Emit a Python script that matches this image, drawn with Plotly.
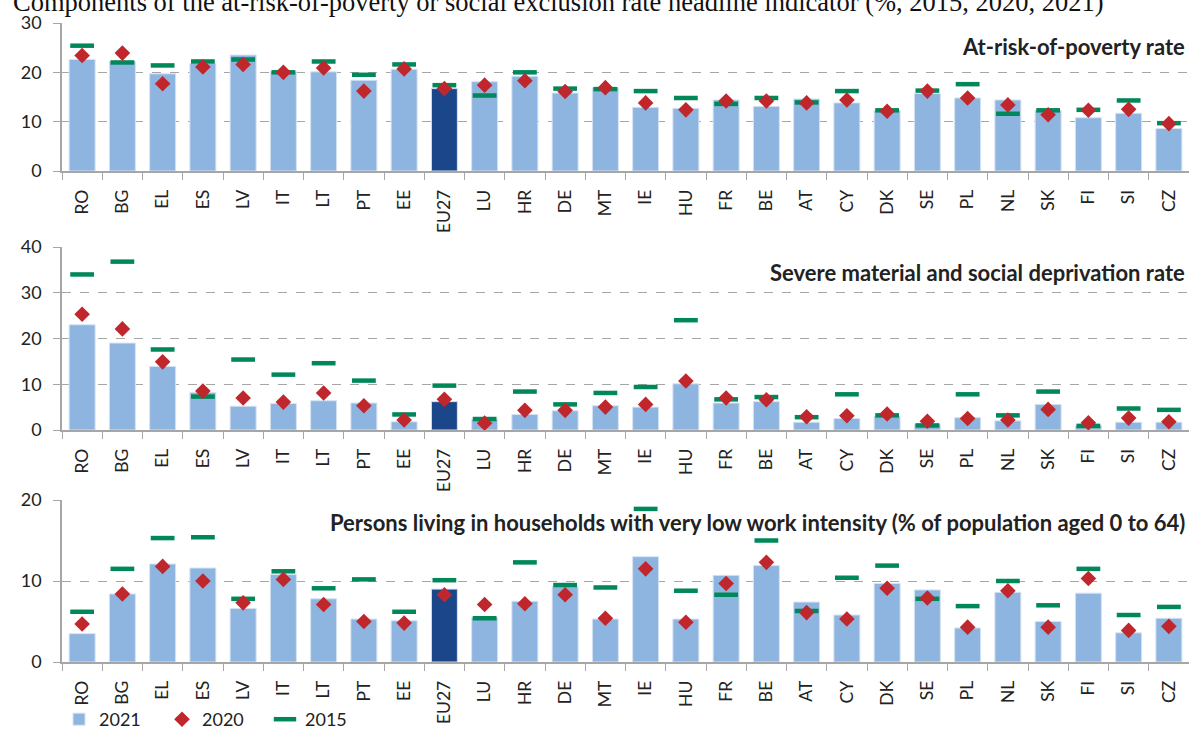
import plotly.graph_objects as go

cats = ["RO", "BG", "EL", "ES", "LV", "IT", "LT", "PT", "EE", "EU27", "LU", "HR", "DE", "MT",
        "IE", "HU", "FR", "BE", "AT", "CY", "DK", "SE", "PL", "NL", "SK", "FI", "SI", "CZ"]

# Panel 1: At-risk-of-poverty rate
arop_2021 = [22.6, 22.2, 19.7, 21.8, 23.5, 20.2, 20.1, 18.4, 20.6, 16.7, 18.1, 19.2, 15.8, 16.9,
             12.9, 12.7, 14.4, 13.1, 14.6, 13.8, 12.3, 15.7, 14.8, 14.4, 12.3, 10.8, 11.7, 8.6]
arop_2020 = [23.4, 23.9, 17.7, 21.1, 21.6, 20.0, 20.9, 16.2, 20.7, 16.7, 17.4, 18.3, 16.1, 16.9,
             13.8, 12.4, 14.2, 14.2, 13.8, 14.4, 12.1, 16.2, 14.8, 13.4, 11.4, 12.3, 12.5, 9.6]
arop_2015 = [25.4, 22.0, 21.4, 22.2, 22.6, 20.0, 22.2, 19.5, 21.6, 17.4, 15.3, 20.0, 16.7, 16.6,
             16.2, 14.8, 13.6, 14.8, 13.9, 16.2, 12.3, 16.3, 17.6, 11.6, 12.3, 12.4, 14.3, 9.7]

# Panel 2: Severe material and social deprivation rate
smsd_2021 = [23.0, 19.0, 13.9, 8.2, 5.2, 5.8, 6.4, 5.9, 1.8, 6.2, 2.3, 3.4, 4.2, 5.3,
             5.0, 10.1, 5.9, 6.2, 1.7, 2.5, 3.0, 1.3, 2.7, 2.0, 5.6, 1.0, 1.7, 1.7]
smsd_2020 = [25.3, 22.1, 14.9, 8.5, 7.0, 6.1, 8.1, 5.3, 2.2, 6.7, 1.5, 4.3, 4.3, 5.0,
             5.6, 10.7, 7.0, 6.6, 2.9, 3.1, 3.5, 1.9, 2.5, 2.2, 4.5, 1.6, 2.6, 1.8]
smsd_2015 = [34.0, 36.8, 17.6, 7.3, 15.4, 12.1, 14.6, 10.8, 3.4, 9.7, 2.4, 8.4, 5.6, 8.1,
             9.4, 24.0, 6.7, 7.2, 2.8, 7.8, 3.2, 1.0, 7.8, 3.2, 8.4, 0.9, 4.7, 4.4]

# Panel 3: Very low work intensity
lwi_2021 = [3.5, 8.4, 12.1, 11.6, 6.6, 10.8, 7.8, 5.3, 5.1, 9.0, 5.5, 7.5, 9.3, 5.3,
            13.0, 5.3, 10.7, 11.9, 7.4, 5.8, 9.7, 8.9, 4.2, 8.6, 5.0, 8.5, 3.6, 5.4]
lwi_2020 = [4.7, 8.4, 11.8, 10.0, 7.3, 10.2, 7.1, 5.0, 4.8, 8.3, 7.1, 7.2, 8.3, 5.4,
            11.5, 4.9, 9.7, 12.3, 6.1, 5.3, 9.1, 7.9, 4.3, 8.8, 4.3, 10.3, 3.9, 4.4]
lwi_2015 = [6.2, 11.5, 15.3, 15.4, 7.8, 11.2, 9.1, 10.2, 6.2, 10.1, 5.4, 12.3, 9.5, 9.2,
            18.9, 8.8, 8.3, 15.0, 6.3, 10.4, 11.9, 7.8, 6.9, 10.0, 7.0, 11.5, 5.8, 6.8]

panel_titles = ["At-risk-of-poverty rate",
                "Severe material and social deprivation rate",
                "Persons living in households with very low work intensity (% of population aged 0 to 64)"]
title_text = "Components of the at-risk-of-poverty or social exclusion rate headline indicator (%, 2015, 2020, 2021)"

LIGHT = "#8EB4E0"
DARK = "#1B468A"
RED = "#C0272D"
GREEN = "#00875A"
GRID = "#A6A6A6"
FONT = "Lato"

bar_colors = [DARK if c == "EU27" else LIGHT for c in cats]

panels = [
    (arop_2021, arop_2020, arop_2015, [0, 30], [0, 10, 20, 30], (171, 23), 47),
    (smsd_2021, smsd_2020, smsd_2015, [0, 40], [0, 10, 20, 30, 40], (430, 247), 272),
    (lwi_2021, lwi_2020, lwi_2015, [0, 20], [0, 10, 20], (662, 500), 522),
]

W, H = 1189, 738
fig = go.Figure()
layout = {}
annotations = []

for i, (v21, v20, v15, yr, tv, (ybot, ytop), ty) in enumerate(panels):
    n = "" if i == 0 else str(i + 1)
    xa, ya = "x" + n, "y" + n
    fig.add_trace(go.Bar(x=cats, y=v21, name="2021", xaxis=xa, yaxis=ya,
                         marker=dict(color=bar_colors, line=dict(color="#D5E3F3", width=1)),
                         width=0.645, showlegend=(i == 0), legendgroup="2021", legendrank=1))
    fig.add_trace(go.Scatter(x=cats, y=v15, name="2015", mode="markers", xaxis=xa, yaxis=ya,
                             marker=dict(symbol="line-ew", size=17, color=GREEN,
                                         line=dict(color=GREEN, width=4.5)),
                             showlegend=(i == 0), legendgroup="2015", legendrank=3))
    fig.add_trace(go.Scatter(x=cats, y=v20, name="2020", mode="markers", xaxis=xa, yaxis=ya,
                             marker=dict(symbol="diamond", size=12, color=RED),
                             showlegend=(i == 0), legendgroup="2020", legendrank=2))
    layout["xaxis" + n] = dict(
        domain=[62 / W, 1189 / W], anchor=ya, type="category",
        categoryorder="array", categoryarray=cats,
        tickangle=-90, tickson="boundaries", ticks="outside", ticklen=7,
        tickcolor=GRID, showline=True, linecolor=GRID, linewidth=1.5,
        tickfont=dict(family=FONT, size=17.5, color="#222222"), ticklabelstandoff=10,
        showgrid=False, automargin=False, range=[-0.5, len(cats) - 0.5])
    layout["yaxis" + n] = dict(
        domain=[1 - ybot / H, 1 - ytop / H], anchor=xa, range=yr, tickvals=tv,
        showgrid=True, gridcolor=GRID, griddash="dash", gridwidth=1,
        showline=True, linecolor=GRID, linewidth=1.5, ticks="outside", ticklen=7,
        tickcolor=GRID, zeroline=False, ticklabelstandoff=8,
        tickfont=dict(family=FONT, size=18, color="#222222"), automargin=False)
    annotations.append(dict(text="<b>" + panel_titles[i] + "</b>", xref="paper", yref="paper",
                            x=1187 / W, y=1 - ty / H, xanchor="right", yanchor="middle",
                            showarrow=False, font=dict(family=FONT, size=22, color="#222222")))

annotations.append(dict(text=title_text, xref="paper", yref="paper", x=11 / W, y=1 - 2 / H,
                        xanchor="left", yanchor="middle", showarrow=False,
                        font=dict(family="Liberation Serif", size=26.5, color="#111111")))

fig.update_layout(
    **layout,
    annotations=annotations,
    width=W, height=H,
    margin=dict(l=0, r=0, t=0, b=0),
    paper_bgcolor="white", plot_bgcolor="white",
    barmode="overlay",
    showlegend=True,
    legend=dict(orientation="h", x=59 / W, y=0, xanchor="left", yanchor="bottom",
                font=dict(family=FONT, size=18, color="#222222"),
                entrywidth=58, entrywidthmode="pixels", traceorder="normal",
                itemwidth=30, bgcolor="rgba(0,0,0,0)"),
)

post = (
    "document.documentElement.style.margin='0';"
    "document.body.style.margin='0';"
    "document.documentElement.style.overflow='hidden';"
    "document.body.style.overflow='hidden';"
)

fig.write_html("out.html", config={"displayModeBar": False}, post_script=post)
